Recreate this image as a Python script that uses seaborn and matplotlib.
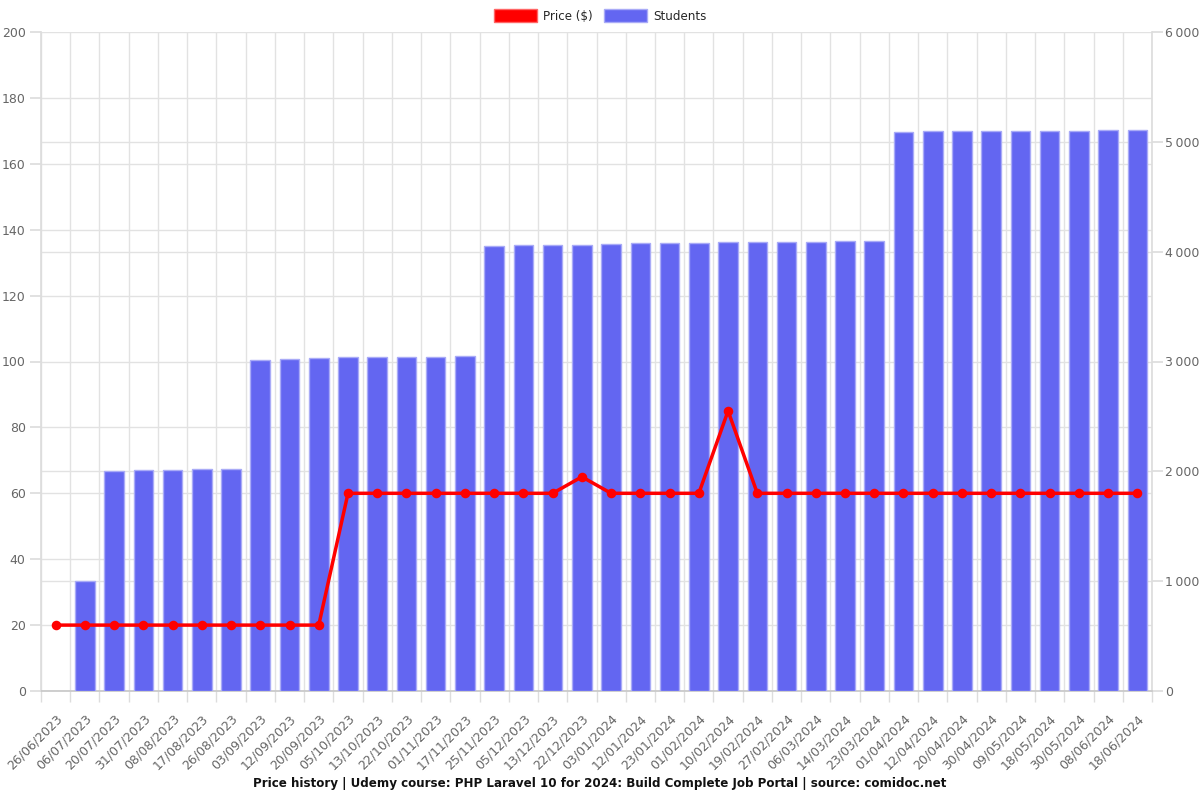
import matplotlib
matplotlib.use("Agg")
import matplotlib.pyplot as plt
import matplotlib.ticker as mticker
from matplotlib.patches import Patch
import seaborn as sns
import numpy as np
import pandas as pd

dates = ["26/06/2023", "06/07/2023", "20/07/2023", "31/07/2023", "08/08/2023", "17/08/2023",
         "26/08/2023", "03/09/2023", "12/09/2023", "20/09/2023", "05/10/2023", "13/10/2023",
         "22/10/2023", "01/11/2023", "17/11/2023", "25/11/2023", "05/12/2023", "13/12/2023",
         "22/12/2023", "03/01/2024", "12/01/2024", "23/01/2024", "01/02/2024", "10/02/2024",
         "19/02/2024", "27/02/2024", "06/03/2024", "14/03/2024", "23/03/2024", "01/04/2024",
         "12/04/2024", "20/04/2024", "30/04/2024", "09/05/2024", "18/05/2024", "30/05/2024",
         "08/06/2024", "18/06/2024"]
price = [20, 20, 20, 20, 20, 20, 20, 20, 20, 20, 60, 60, 60, 60, 60, 60, 60, 60, 65, 60,
         60, 60, 60, 85, 60, 60, 60, 60, 60, 60, 60, 60, 60, 60, 60, 60, 60, 60]
students = [np.nan, 1000, 2006, 2009, 2012, 2018, 2024, 3018, 3024, 3030, 3039, 3039, 3039,
            3042, 3049, 4055, 4058, 4061, 4064, 4070, 4076, 4076, 4079, 4085, 4088, 4088,
            4088, 4094, 4094, 5094, 5097, 5100, 5100, 5103, 5103, 5103, 5106, 5106]
title = "Price history | Udemy course: PHP Laravel 10 for 2024: Build Complete Job Portal | source: comidoc.net"

df = pd.DataFrame({"date": dates, "price": price, "students": students})

sns.set_theme(style="white")
plt.rcParams["font.family"] = ["DejaVu Sans"]

fig = plt.figure(figsize=(12, 8), dpi=100)
ax = fig.add_axes([41 / 1200, 1 - 691 / 800, (1152 - 41) / 1200, (691 - 32) / 800])

bar_color = "#6366F1"
sns.barplot(data=df, x="date", y="students", color=bar_color, saturation=1, width=0.67,
            edgecolor="#a9abf7", linewidth=1, errorbar=None, ax=ax, zorder=3)

ax2 = ax.twinx()
sns.pointplot(data=df, x="date", y="price", color="#ff0000", markers="o", linestyles="-",
              linewidth=2.5, markersize=5, errorbar=None, ax=ax2)

# students axis (right)
ax.set_ylim(0, 6000)
ax.set_xlim(-0.5, len(dates) - 0.5)
ax.yaxis.tick_right()
ax.set_yticks(np.arange(0, 6001, 1000))
ax.yaxis.set_major_formatter(mticker.FuncFormatter(lambda v, p: f"{int(v):,}".replace(",", "\u2009")))
ax.set_yticks(np.arange(0, 6001, 600), minor=True)
ax.set_xticks(np.arange(len(dates) + 1) - 0.5, minor=True)
ax.grid(True, which="major", axis="y", color="#e2e2e2", linewidth=1, zorder=0)
ax.grid(True, which="minor", axis="both", color="#e2e2e2", linewidth=1, zorder=0)
ax.set_axisbelow(True)
ax.set_xlabel("")
ax.set_ylabel("")
ax.tick_params(axis="y", which="major", right=True, left=False, labelright=True, labelleft=False,
               length=8, color="#dddddd", labelsize=9, labelcolor="#666666", pad=1.5)
ax.tick_params(axis="y", which="minor", right=False, left=False)
ax.tick_params(axis="x", which="major", bottom=False, labelsize=9, labelcolor="#666666", pad=9)
ax.tick_params(axis="x", which="minor", bottom=True, length=8, color="#dddddd")
for lbl in ax.get_xticklabels():
    lbl.set_rotation(45)
    lbl.set_ha("right")
    lbl.set_rotation_mode("anchor")
for s in ["left", "right"]:
    ax.spines[s].set_color("#dddddd")
ax.spines["top"].set_visible(False)
ax.spines["bottom"].set_color("#c8c8c8")

# price axis (left)
ax2.set_ylim(0, 200)
ax2.set_xlim(-0.5, len(dates) - 0.5)
ax2.yaxis.tick_left()
ax2.set_yticks(np.arange(0, 201, 20))
ax2.set_ylabel("")
ax2.set_xlabel("")
ax2.tick_params(axis="y", left=True, right=False, labelleft=True, labelright=False, length=8,
                color="#dddddd", labelsize=9, labelcolor="#666666", pad=3)
ax2.tick_params(axis="x", bottom=False, labelbottom=False)
for s in ax2.spines.values():
    s.set_visible(False)

handles = [Patch(facecolor="#ff0000", edgecolor="#ff6666", label="Price ($)"),
           Patch(facecolor=bar_color, edgecolor="#a9abf7", label="Students")]
fig.legend(handles=handles, loc="center", bbox_to_anchor=(0.5, 1 - 16 / 800), ncol=2,
           frameon=False, fontsize=8.6, handlelength=3.6, handleheight=1.2, columnspacing=1.0,
           handletextpad=0.5)
fig.text(0.5, 1 - 783 / 800, title, ha="center", va="center", fontsize=8.6, fontweight="bold",
         color="#111111")

fig.savefig("out.png", dpi=100)
